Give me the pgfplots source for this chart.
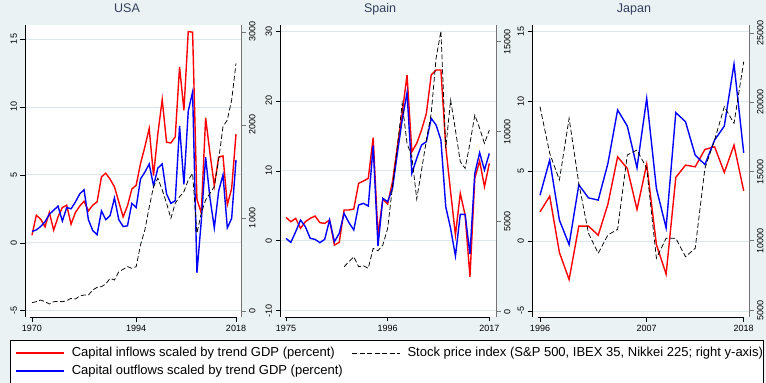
\documentclass[border=0pt]{standalone}
\usepackage{fontspec}
\setmainfont{Liberation Sans}
\usepackage{pgfplots}
\pgfplotsset{compat=1.18}
\definecolor{bgcol}{RGB}{234,242,243}
\definecolor{gridcol}{RGB}{220,231,235}
\definecolor{titlecol}{RGB}{50,62,92}
\definecolor{raxis}{RGB}{115,115,115}
\pgfplotsset{
 base/.style={scale only axis, width=216pt, height=292pt, tick align=outside,
   major tick length=4.5pt, scaled y ticks=false, ticklabel style={font=\fontsize{9}{10}\selectfont}},
 leftax/.style={base, axis y line*=left, axis x line*=bottom,
   axis line style={-, line width=0.8pt, black}, tick style={black, line width=0.6pt},
   ymajorgrids, grid style={gridcol, line width=0.8pt},
   axis background/.style={fill=white},
   yticklabel style={rotate=90, anchor=south},
   title style={font=\fontsize{12.5}{14}\selectfont, text=titlecol, at={(0.5,1)}, anchor=base, yshift=6pt}},
 rightax/.style={base, axis y line*=right, axis x line=none,
   axis line style={-, line width=0.8pt, raxis}, tick style={raxis, line width=0.6pt},
   yticklabel style={rotate=90, anchor=north}, xtick=\empty},
}
\begin{document}
\begin{tikzpicture}
\useasboundingbox (0pt,0pt) rectangle (766pt,383pt);
\fill[bgcol] (0pt,0pt) rectangle (766pt,383pt);
\draw[black, line width=0.8pt, fill=white] (10.7pt,43pt) rectangle (763pt,-2pt);

% ---------------- USA ----------------
\begin{axis}[leftax, at={(25pt,66pt)}, anchor=south west,
  xmin=1968.39, xmax=2018.15, ymin=-5.46, ymax=16.03,
  xtick={1970,1994,2017}, xticklabels={1970,1994,2018},
  ytick={-5,0,5,10,15}, yticklabels={-5,0,5,10,15},
  title={USA}, title style={xshift=-6pt},
  x axis line style={shorten <=5pt, shorten >=4pt},
  legend columns=2, legend cell align=left,
  legend image code/.code={\draw[#1] (0pt,0pt) -- (48pt,0pt);},
  legend style={at={(-0.0463,-0.0993)}, anchor=north west, draw=none, fill=none,
    inner sep=0pt, font=\fontsize{13}{15}\selectfont, row sep=4pt,
    nodes={inner sep=1pt, text height=9.5pt, text depth=2.5pt},
    /tikz/every odd column/.append style={column sep=6pt},
    /tikz/every even column/.append style={column sep=8pt}}]
\addlegendimage{red, line width=1.6pt}
\addlegendentry{Capital inflows scaled by trend GDP (percent)}
\addlegendimage{black, line width=0.75pt, dash pattern=on 5pt off 2.5pt}
\addlegendentry{Stock price index (S\&P 500, IBEX 35, Nikkei 225; right y-axis)}
\addlegendimage{blue, line width=1.6pt}
\addlegendentry{Capital outflows scaled by trend GDP (percent)}
\addplot[red, line width=1.4pt, forget plot] coordinates {(1970,0.56) (1971,2.03) (1972,1.74) (1973,1.18) (1974,2.23) (1975,0.93) (1976,1.91) (1977,2.60) (1978,2.77) (1979,1.37) (1980,2.23) (1981,2.70) (1982,3.06) (1983,2.35) (1984,2.77) (1985,3.01) (1986,4.85) (1987,5.12) (1988,4.68) (1989,4.12) (1990,3.01) (1991,1.91) (1992,2.72) (1993,3.95) (1994,4.24) (1995,5.83) (1996,7.06) (1997,8.41) (1998,4.95) (1999,8.04) (2000,10.54) (2001,7.40) (2002,7.35) (2003,7.80) (2004,12.95) (2005,9.75) (2006,15.55) (2007,15.50) (2008,3.20) (2009,2.20) (2010,9.20) (2011,6.60) (2012,4.20) (2013,6.30) (2014,6.40) (2015,2.80) (2016,4.00) (2017,8.00)};
\addplot[blue, line width=1.4pt, forget plot] coordinates {(1970,0.83) (1971,0.95) (1972,1.2) (1973,1.55) (1974,2.1) (1975,2.4) (1976,2.7) (1977,1.6) (1978,2.6) (1979,2.5) (1980,3.0) (1981,3.6) (1982,3.9) (1983,1.7) (1984,0.9) (1985,0.6) (1986,2.35) (1987,1.7) (1988,2.0) (1989,3.3) (1990,1.7) (1991,1.2) (1992,1.25) (1993,2.9) (1994,2.6) (1995,4.7) (1996,5.2) (1997,5.8) (1998,4.2) (1999,5.5) (2000,5.8) (2001,3.6) (2002,2.9) (2003,3.1) (2004,8.6) (2005,4.3) (2006,9.7) (2007,11.1) (2008,-2.2) (2009,1.6) (2010,6.3) (2011,3.3) (2012,1.1) (2013,3.8) (2014,5.0) (2015,1.1) (2016,1.8) (2017,6.1)};
\end{axis}
\begin{axis}[rightax, at={(25pt,66pt)}, anchor=south west,
  xmin=1968.39, xmax=2018.15, ymin=-64.5, ymax=3075,
  ytick={0,1000,2000,3000}, yticklabels={0,1000,2000,3000}]
\addplot[black, line width=0.75pt, dash pattern=on 5pt off 2.5pt] coordinates {(1970,90) (1971,100) (1972,118) (1973,100) (1974,75) (1975,100) (1976,104) (1977,100) (1978,111) (1979,136) (1980,129) (1981,161) (1982,172) (1983,172) (1984,226) (1985,254) (1986,262) (1987,290) (1988,351) (1989,333) (1990,423) (1991,448) (1992,477) (1993,459) (1994,477) (1995,710) (1996,871) (1997,1115) (1998,1337) (1999,1427) (2000,1301) (2001,1158) (2002,996) (2003,1158) (2004,1229) (2005,1283) (2006,1409) (2007,1480) (2008,835) (2009,1050) (2010,1194) (2011,1265) (2012,1337) (2013,1624) (2014,1982) (2015,2054) (2016,2269) (2017,2663)};
\end{axis}

% ---------------- Spain ----------------
\begin{axis}[leftax, at={(280pt,66pt)}, anchor=south west,
  xmin=1973.76, xmax=2018.38, ymin=-10.90, ymax=30.86,
  xtick={1975,1996,2017}, xticklabels={1975,1996,2017},
  ytick={-10,0,10,20,30}, yticklabels={-10,0,10,20,30},
  title={Spain}, title style={xshift=-8pt},
  x axis line style={shorten <=5pt, shorten >=6pt}]
\addplot[red, line width=1.4pt] coordinates {(1975,3.35) (1976,2.73) (1977,3.20) (1978,1.78) (1979,2.73) (1980,3.20) (1981,3.54) (1982,2.59) (1983,2.49) (1984,2.97) (1985,-0.61) (1986,-0.23) (1987,4.40) (1988,4.40) (1989,4.54) (1990,8.21) (1991,8.55) (1992,8.93) (1993,14.74) (1994,0.82) (1995,5.97) (1996,5.26) (1997,8.45) (1998,13.46) (1999,18.22) (2000,23.71) (2001,12.74) (2002,13.93) (2003,15.84) (2004,18.22) (2005,23.71) (2006,24.42) (2007,24.42) (2008,13.46) (2009,7.02) (2010,0.82) (2011,6.78) (2012,3.68) (2013,-5.14) (2014,8.93) (2015,11.41) (2016,7.74) (2017,11.07)};
\addplot[blue, line width=1.4pt] coordinates {(1975,0.35) (1976,-0.23) (1977,1.30) (1978,2.97) (1979,2.01) (1980,0.35) (1981,0.20) (1982,-0.27) (1983,0.20) (1984,2.97) (1985,-0.13) (1986,1.06) (1987,3.92) (1988,2.59) (1989,1.54) (1990,5.11) (1991,5.35) (1992,4.97) (1993,13.60) (1994,-0.75) (1995,6.07) (1996,5.59) (1997,7.50) (1998,12.50) (1999,17.27) (2000,21.18) (2001,9.64) (2002,11.79) (2003,13.70) (2004,14.17) (2005,17.51) (2006,16.56) (2007,14.41) (2008,4.87) (2009,1.77) (2010,-2.18) (2011,3.77) (2012,3.77) (2013,-1.90) (2014,9.64) (2015,12.60) (2016,10.12) (2017,12.50)};
\end{axis}
\begin{axis}[rightax, at={(280pt,66pt)}, anchor=south west,
  xmin=1973.76, xmax=2018.38, ymin=-294, ymax=15928,
  ytick={0,5000,10000,15000}, yticklabels={0,5000,10000,15000}]
\addplot[black, line width=0.75pt, dash pattern=on 5pt off 2.5pt] coordinates {(1987,2500) (1988,2778) (1989,3056) (1990,2500) (1991,2556) (1992,2407) (1993,3519) (1994,3389) (1995,3704) (1996,4630) (1997,6944) (1998,9167) (1999,11574) (2000,9352) (2001,8611) (2002,6259) (2003,7870) (2004,9537) (2005,11019) (2006,14074) (2007,15593) (2008,9074) (2009,11759) (2010,10093) (2011,8333) (2012,7963) (2013,9352) (2014,10926) (2015,10185) (2016,9352) (2017,10093)};
\end{axis}

% ---------------- Japan ----------------
\begin{axis}[leftax, at={(532pt,66pt)}, anchor=south west, width=217pt,
  xmin=1995.175, xmax=2017.546, ymin=-5.43, ymax=15.43,
  xtick={1996,2007,2017}, xticklabels={1996,2007,2018},
  ytick={-5,0,5,10,15}, yticklabels={-5,0,5,10,15},
  title={Japan}, title style={xshift=-6.5pt},
  x axis line style={shorten <=6pt, shorten >=6pt}]
\addplot[red, line width=1.4pt] coordinates {(1996,2.08) (1997,3.20) (1998,-0.82) (1999,-2.75) (2000,1.06) (2001,1.06) (2002,0.41) (2003,2.63) (2004,6.01) (2005,5.18) (2006,2.25) (2007,5.49) (2008,-0.25) (2009,-2.37) (2010,4.54) (2011,5.42) (2012,5.30) (2013,6.54) (2014,6.73) (2015,4.90) (2016,6.85) (2017,3.58)};
\addplot[blue, line width=1.4pt] coordinates {(1996,3.27) (1997,5.78) (1998,1.49) (1999,-0.26) (2000,4.01) (2001,3.08) (2002,2.92) (2003,5.54) (2004,9.36) (2005,8.21) (2006,5.23) (2007,10.19) (2008,3.75) (2009,0.94) (2010,9.17) (2011,8.52) (2012,6.13) (2013,5.46) (2014,7.21) (2015,8.21) (2016,12.64) (2017,6.30)};
\end{axis}
\begin{axis}[rightax, at={(532pt,66pt)}, anchor=south west, width=217pt,
  xmin=1995.175, xmax=2017.546, ymin=4495, ymax=25578,
  ytick={5000,10000,15000,20000,25000}, yticklabels={5000,10000,15000,20000,25000}]
\addplot[black, line width=0.75pt, dash pattern=on 5pt off 2.5pt] coordinates {(1996,19679) (1997,16314) (1998,14386) (1999,18841) (2000,14148) (2001,10538) (2002,9094) (2003,10415) (2004,10827) (2005,16191) (2006,16552) (2007,15231) (2008,8733) (2009,10177) (2010,10177) (2011,8848) (2012,9455) (2013,15231) (2014,17274) (2015,19679) (2016,18480) (2017,22928)};
\end{axis}
\end{tikzpicture}
\end{document}
